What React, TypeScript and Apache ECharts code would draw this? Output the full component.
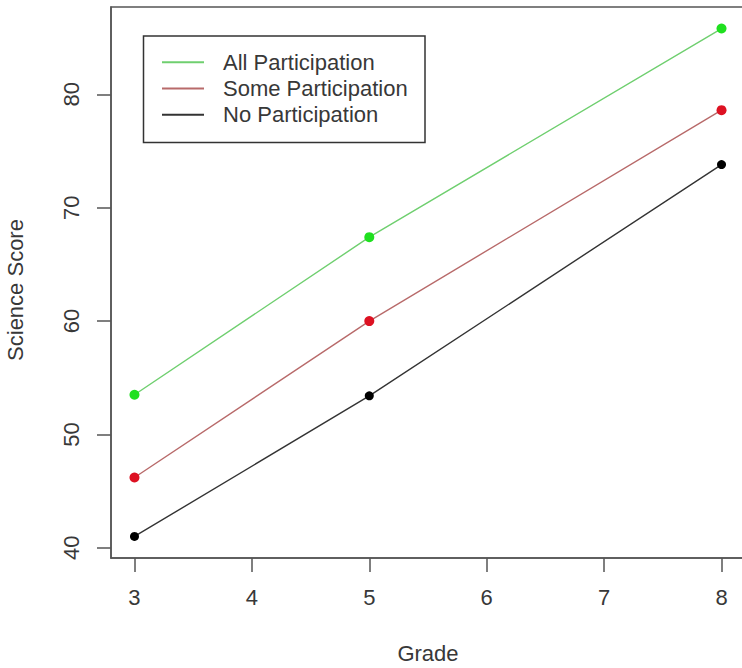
import React, { useEffect, useRef } from "react";
import * as echarts from "echarts";

const grades = [3, 5, 8];
const allParticipation = [53.5, 67.4, 85.8];
const someParticipation = [46.2, 60.0, 78.6];
const noParticipation = [41.0, 53.4, 73.8];
const xTicks = [3, 4, 5, 6, 7, 8];
const yTicks = [40, 50, 60, 70, 80];
const seriesNames = ["All Participation", "Some Participation", "No Participation"];

const FONT = "Liberation Sans, Arial, sans-serif";
const AXIS = "#555555";
const TEXT = "#383838";
const FS = 22;

export default function App() {
  const ref = useRef<HTMLDivElement>(null);
  useEffect(() => {
    if (!ref.current) return;
    const chart = echarts.init(ref.current, null, { renderer: "svg" });
    const pts = (vals: number[]) => grades.map((g, i) => [g, vals[i]]);
    const lineColors = ["#6fcf6f", "#b86a6a", "#333333"];
    const dotColors = ["#1fe01f", "#dd1122", "#000000"];
    const vals = [allParticipation, someParticipation, noParticipation];
    chart.setOption({
      animation: false,
      backgroundColor: "#ffffff",
      grid: {
        left: 111,
        top: 7,
        width: 634,
        height: 551,
        show: true,
        borderColor: AXIS,
        borderWidth: 1.5,
        outerBoundsMode: "none",
        containLabel: false,
      },
      xAxis: {
        type: "value",
        min: 2.8,
        max: 8.2,
        axisLine: { show: true, lineStyle: { color: AXIS, width: 1.5 } },
        axisTick: {
          show: true,
          length: 14,
          customValues: xTicks,
          lineStyle: { color: AXIS, width: 1.5 },
        },
        axisLabel: {
          customValues: xTicks,
          margin: 28,
          fontSize: FS,
          fontFamily: FONT,
          color: TEXT,
        },
        splitLine: { show: false },
      },
      yAxis: {
        type: "value",
        min: 39.1,
        max: 87.7,
        axisLine: { show: true, lineStyle: { color: AXIS, width: 1.5 } },
        axisTick: {
          show: true,
          length: 14,
          customValues: yTicks,
          lineStyle: { color: AXIS, width: 1.5 },
        },
        axisLabel: {
          customValues: yTicks,
          rotate: 90,
          margin: 29,
          fontSize: FS,
          fontFamily: FONT,
          color: TEXT,
        },
        splitLine: { show: false },
      },
      legend: {
        orient: "vertical",
        left: 162,
        top: 49,
        padding: 0,
        itemGap: 0,
        itemWidth: 42,
        itemHeight: 2,
        icon: "rect",
        selectedMode: false,
        textStyle: {
          fontSize: FS,
          fontFamily: FONT,
          color: TEXT,
          lineHeight: 26.3,
          padding: [0, 0, 0, 14],
        },
        data: seriesNames.map((n, i) => ({ name: n, itemStyle: { color: lineColors[i] } })),
      },
      graphic: [
        {
          type: "rect",
          shape: { x: 143.5, y: 36, width: 281.5, height: 106.5 },
          style: { fill: "none", stroke: "#333333", lineWidth: 1.5 },
          z: 10,
        },
        {
          type: "text",
          x: 428,
          y: 653,
          style: {
            text: "Grade",
            fontSize: FS,
            fontFamily: FONT,
            fill: TEXT,
            align: "center",
            verticalAlign: "middle",
          },
        },
        {
          type: "text",
          x: 15,
          y: 290,
          rotation: Math.PI / 2,
          style: {
            text: "Science Score",
            fontSize: FS,
            fontFamily: FONT,
            fill: TEXT,
            align: "center",
            verticalAlign: "middle",
          },
        },
      ],
      series: seriesNames.map((n, i) => ({
        name: n,
        type: "line",
        data: pts(vals[i]),
        symbol: "circle",
        symbolSize: i === 2 ? 9 : 10,
        showSymbol: true,
        lineStyle: { color: lineColors[i], width: 1.4 },
        itemStyle: { color: dotColors[i] },
        z: 3 - i,
      })),
    });
    return () => chart.dispose();
  }, []);
  return (
    <div
      ref={ref}
      style={{ position: "absolute", left: 0, top: 0, width: 742, height: 668 }}
    />
  );
}
